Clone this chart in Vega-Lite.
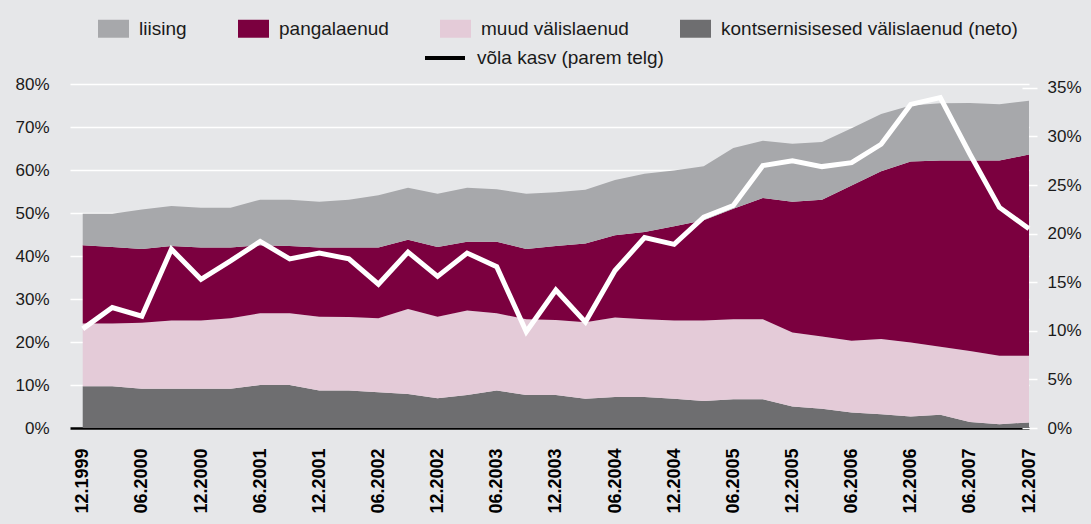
{
  "$schema": "https://vega.github.io/schema/vega-lite/v6.json",
  "width": 959,
  "height": 344,
  "autosize": {"type": "none"},
  "padding": {"left": 70, "top": 84, "right": 62, "bottom": 96},
  "background": "#e6e7e9",
  "config": {
    "view": {"stroke": null},
    "font": "Liberation Sans",
    "axis": {"labelFont": "Liberation Sans"},
    "legend": {"labelFont": "Liberation Sans", "padding": 0, "labelLimit": 500}
  },
  "datasets": {
    "andmed": [
      {"kuu": "12.1999", "kontsernisisesed välislaenud (neto)": 9.7, "muud välislaenud": 14.6, "pangalaenud": 18.2, "liising": 7.3, "kasv": 10.2},
      {"kuu": "03.2000", "kontsernisisesed välislaenud (neto)": 9.7, "muud välislaenud": 14.6, "pangalaenud": 17.8, "liising": 7.7, "kasv": 12.4},
      {"kuu": "06.2000", "kontsernisisesed välislaenud (neto)": 9.1, "muud välislaenud": 15.4, "pangalaenud": 17.1, "liising": 9.2, "kasv": 11.5},
      {"kuu": "09.2000", "kontsernisisesed välislaenud (neto)": 9.1, "muud välislaenud": 15.9, "pangalaenud": 17.3, "liising": 9.3, "kasv": 18.4},
      {"kuu": "12.2000", "kontsernisisesed välislaenud (neto)": 9.1, "muud välislaenud": 15.9, "pangalaenud": 17.0, "liising": 9.2, "kasv": 15.3},
      {"kuu": "03.2001", "kontsernisisesed välislaenud (neto)": 9.1, "muud välislaenud": 16.4, "pangalaenud": 16.5, "liising": 9.2, "kasv": 17.2},
      {"kuu": "06.2001", "kontsernisisesed välislaenud (neto)": 10.0, "muud välislaenud": 16.7, "pangalaenud": 15.8, "liising": 10.6, "kasv": 19.2},
      {"kuu": "09.2001", "kontsernisisesed välislaenud (neto)": 10.0, "muud välislaenud": 16.7, "pangalaenud": 15.6, "liising": 10.8, "kasv": 17.4},
      {"kuu": "12.2001", "kontsernisisesed välislaenud (neto)": 8.7, "muud välislaenud": 17.2, "pangalaenud": 16.1, "liising": 10.6, "kasv": 18.0},
      {"kuu": "03.2002", "kontsernisisesed välislaenud (neto)": 8.7, "muud välislaenud": 17.1, "pangalaenud": 16.2, "liising": 11.1, "kasv": 17.4},
      {"kuu": "06.2002", "kontsernisisesed välislaenud (neto)": 8.3, "muud välislaenud": 17.2, "pangalaenud": 16.5, "liising": 12.1, "kasv": 14.8},
      {"kuu": "09.2002", "kontsernisisesed välislaenud (neto)": 7.9, "muud välislaenud": 19.8, "pangalaenud": 16.1, "liising": 12.1, "kasv": 18.1},
      {"kuu": "12.2002", "kontsernisisesed välislaenud (neto)": 6.9, "muud välislaenud": 19.0, "pangalaenud": 16.2, "liising": 12.4, "kasv": 15.6},
      {"kuu": "03.2003", "kontsernisisesed välislaenud (neto)": 7.7, "muud välislaenud": 19.6, "pangalaenud": 16.0, "liising": 12.6, "kasv": 18.0},
      {"kuu": "06.2003", "kontsernisisesed välislaenud (neto)": 8.7, "muud välislaenud": 18.0, "pangalaenud": 16.6, "liising": 12.2, "kasv": 16.6},
      {"kuu": "09.2003", "kontsernisisesed välislaenud (neto)": 7.7, "muud välislaenud": 17.6, "pangalaenud": 16.3, "liising": 12.9, "kasv": 9.9},
      {"kuu": "12.2003", "kontsernisisesed välislaenud (neto)": 7.7, "muud välislaenud": 17.4, "pangalaenud": 17.2, "liising": 12.5, "kasv": 14.2},
      {"kuu": "03.2004", "kontsernisisesed välislaenud (neto)": 6.8, "muud välislaenud": 17.8, "pangalaenud": 18.3, "liising": 12.5, "kasv": 10.9},
      {"kuu": "06.2004", "kontsernisisesed välislaenud (neto)": 7.2, "muud välislaenud": 18.5, "pangalaenud": 19.1, "liising": 12.9, "kasv": 16.2},
      {"kuu": "09.2004", "kontsernisisesed välislaenud (neto)": 7.2, "muud välislaenud": 18.1, "pangalaenud": 20.3, "liising": 13.5, "kasv": 19.6},
      {"kuu": "12.2004", "kontsernisisesed välislaenud (neto)": 6.8, "muud välislaenud": 18.2, "pangalaenud": 21.9, "liising": 13.0, "kasv": 18.9},
      {"kuu": "03.2005", "kontsernisisesed välislaenud (neto)": 6.3, "muud välislaenud": 18.7, "pangalaenud": 23.3, "liising": 12.6, "kasv": 21.7},
      {"kuu": "06.2005", "kontsernisisesed välislaenud (neto)": 6.7, "muud välislaenud": 18.6, "pangalaenud": 25.7, "liising": 14.1, "kasv": 22.9},
      {"kuu": "09.2005", "kontsernisisesed välislaenud (neto)": 6.7, "muud välislaenud": 18.6, "pangalaenud": 28.2, "liising": 13.3, "kasv": 27.0},
      {"kuu": "12.2005", "kontsernisisesed välislaenud (neto)": 5.0, "muud välislaenud": 17.2, "pangalaenud": 30.4, "liising": 13.5, "kasv": 27.5},
      {"kuu": "03.2006", "kontsernisisesed välislaenud (neto)": 4.5, "muud välislaenud": 16.8, "pangalaenud": 31.8, "liising": 13.4, "kasv": 26.9},
      {"kuu": "06.2006", "kontsernisisesed välislaenud (neto)": 3.6, "muud välislaenud": 16.7, "pangalaenud": 36.1, "liising": 13.3, "kasv": 27.3},
      {"kuu": "09.2006", "kontsernisisesed välislaenud (neto)": 3.2, "muud välislaenud": 17.5, "pangalaenud": 39.0, "liising": 13.3, "kasv": 29.2},
      {"kuu": "12.2006", "kontsernisisesed välislaenud (neto)": 2.7, "muud välislaenud": 17.2, "pangalaenud": 42.1, "liising": 13.0, "kasv": 33.3},
      {"kuu": "03.2007", "kontsernisisesed välislaenud (neto)": 3.1, "muud välislaenud": 15.8, "pangalaenud": 43.3, "liising": 13.3, "kasv": 34.0},
      {"kuu": "06.2007", "kontsernisisesed välislaenud (neto)": 1.4, "muud välislaenud": 16.5, "pangalaenud": 44.3, "liising": 13.4, "kasv": 28.2},
      {"kuu": "09.2007", "kontsernisisesed välislaenud (neto)": 0.9, "muud välislaenud": 15.9, "pangalaenud": 45.4, "liising": 13.1, "kasv": 22.7},
      {"kuu": "12.2007", "kontsernisisesed välislaenud (neto)": 1.3, "muud välislaenud": 15.5, "pangalaenud": 46.8, "liising": 12.5, "kasv": 20.5}
    ]
  },
  "data": {"name": "andmed"},
  "encoding": {
    "x": {
      "field": "kuu",
      "type": "ordinal",
      "sort": null,
      "scale": {"type": "point", "padding": 0.215, "align": 1},
      "axis": {
        "values": ["12.1999", "06.2000", "12.2000", "06.2001", "12.2001", "06.2002", "12.2002", "06.2003", "12.2003", "06.2004", "12.2004", "06.2005", "12.2005", "06.2006", "12.2006", "06.2007", "12.2007"],
        "title": null,
        "labelAngle": -90,
        "labelFontWeight": "bold",
        "labelFontSize": 18,
        "labelColor": "#000000",
        "labelPadding": 20,
        "ticks": false,
        "grid": false,
        "domainColor": "#000000",
        "domainWidth": 2.5
      }
    }
  },
  "layer": [
    {
      "transform": [
        {"fold": ["kontsernisisesed välislaenud (neto)", "muud välislaenud", "pangalaenud", "liising"], "as": ["seeria", "osakaal"]},
        {"window": [{"op": "row_number", "as": "jrk"}], "groupby": ["kuu"]}
      ],
      "mark": {"type": "area", "opacity": 1},
      "encoding": {
        "y": {
          "field": "osakaal",
          "type": "quantitative",
          "stack": "zero",
          "scale": {"domain": [0, 80], "nice": false},
          "axis": {
            "orient": "left",
            "values": [0, 10, 20, 30, 40, 50, 60, 70, 80],
            "labelExpr": "datum.value + '%'",
            "title": null,
            "domain": false,
            "ticks": false,
            "grid": true,
            "gridColor": "#ffffff",
            "gridWidth": 1.5,
            "labelFontSize": 17,
            "labelColor": "#1a1a1a",
            "labelPadding": 21
          }
        },
        "order": {"field": "jrk", "type": "quantitative", "sort": "ascending"},
        "color": {
          "field": "seeria",
          "type": "nominal",
          "sort": ["liising", "pangalaenud", "muud välislaenud", "kontsernisisesed välislaenud (neto)"],
          "scale": {
            "domain": ["liising", "pangalaenud", "muud välislaenud", "kontsernisisesed välislaenud (neto)"],
            "range": ["#a7a8ab", "#7b003f", "#e4cbd8", "#6e6e70"]
          },
          "legend": {
            "orient": "none",
            "legendX": 28,
            "legendY": -71,
            "direction": "horizontal",
            "title": null,
            "symbolType": "M-1,-0.58H1V0.58H-1Z",
            "symbolSize": 961,
            "symbolStrokeWidth": 0,
            "symbolOpacity": 1,
            "labelFontSize": 19,
            "labelColor": "#1a1a1a",
            "labelOffset": 10,
            "columnPadding": 51
          }
        }
      }
    },
    {
      "mark": {"type": "line", "strokeWidth": 5, "strokeJoin": "miter", "color": "#ffffff"},
      "encoding": {
        "y": {
          "field": "kasv",
          "type": "quantitative",
          "scale": {"domain": [0, 35.4], "nice": false},
          "axis": {
            "orient": "right",
            "values": [0, 5, 10, 15, 20, 25, 30, 35],
            "labelExpr": "datum.value + '%'",
            "title": null,
            "domain": false,
            "grid": false,
            "ticks": true,
            "tickColor": "#ffffff",
            "tickWidth": 1.5,
            "tickSize": 15,
            "offset": -7,
            "labelPadding": 10,
            "labelFontSize": 17,
            "labelColor": "#1a1a1a"
          }
        }
      }
    },
    {
      "transform": [{"filter": "false"}],
      "mark": {"type": "line", "strokeWidth": 4},
      "encoding": {
        "y": {"field": "kasv", "type": "quantitative", "scale": {"domain": [0, 35.4], "nice": false}, "axis": null},
        "stroke": {
          "datum": "võla kasv (parem telg)",
          "type": "nominal",
          "scale": {"range": ["#000000"]},
          "legend": {
            "orient": "none",
            "legendX": 353,
            "legendY": -48,
            "title": null,
            "symbolType": "stroke",
            "symbolSize": 1600,
            "symbolStrokeWidth": 4,
            "labelFontSize": 19,
            "labelColor": "#1a1a1a",
            "labelOffset": 10
          }
        }
      }
    }
  ],
  "resolve": {"scale": {"y": "independent"}}
}
